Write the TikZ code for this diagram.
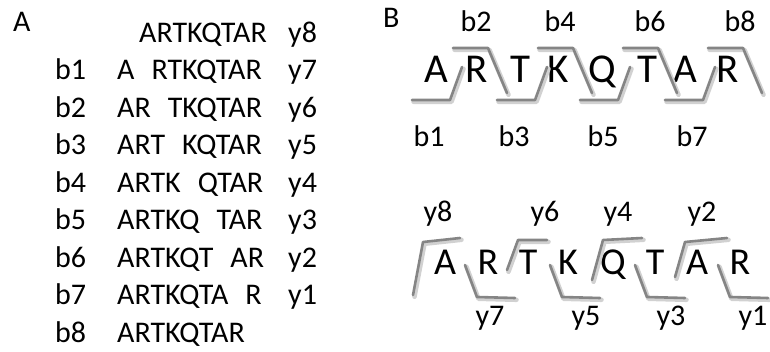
\documentclass[tikz,border=0pt]{standalone}
\usepackage{fontspec}
\setmainfont{Carlito}
\begin{document}
\begin{tikzpicture}[x=1pt,y=-1pt, txt/.style={inner sep=0pt,font=\fontsize{30}{32}\selectfont}, bigletter/.style={inner sep=0pt,anchor=base,font=\fontsize{41}{44}\selectfont}, smallletter/.style={inner sep=0pt,anchor=base,font=\fontsize{38}{40}\selectfont}, bracket/.style={draw=black!48,line width=2.6pt,line join=round,line cap=round}, shade/.style={draw=black!18,line width=4.5pt,line join=round,line cap=round,shift={(1.5,1.8)}}]
\useasboundingbox (0,0) rectangle (770,352);
% panel A
\node[txt,anchor=base west] (pA) at (13,32) {A};
\node[txt,anchor=base east] (s0) at (267,42.5) {ARTKQTAR};
\node[txt,anchor=base west] (y8a) at (288,42.5) {y8};
\foreach \i/\pre/\post/\y in {1/A/RTKQTAR/7, 2/AR/TKQTAR/6, 3/ART/KQTAR/5, 4/ARTK/QTAR/4, 5/ARTKQ/TAR/3, 6/ARTKQT/AR/2, 7/ARTKQTA/R/1}{
  \node[txt,anchor=base west] (b\i a) at (55,42.5+37.5*\i) {b\i};
  \node[txt,anchor=base west] (s\i) at (117,42.5+37.5*\i) {\pre\hspace{17pt}\post};
  \node[txt,anchor=base west] (y\y a) at (288,42.5+37.5*\i) {y\y};
}
\node[txt,anchor=base west] (b8a) at (55,342.5) {b8};
\node[txt,anchor=base west] (s8) at (117,342.5) {ARTKQTAR};
% panel B
\node[txt,anchor=base west] (pB) at (383,28) {B};
\foreach \c/\x [count=\n] in {A/436,R/477,T/520,K/558,Q/602,T/647,A/685,R/728}
  \node[bigletter] (t\n) at (\x,83) {\c};
\foreach \c/\x [count=\n] in {A/445,R/488,T/528,K/568,Q/613,T/655,A/697,R/740}
  \node[smallletter] (u\n) at (\x,275) {\c};
% cleavage brackets, top sequence
\foreach \st in {shade,bracket}{
  \foreach \s in {453,538,623,708}
    \draw[\st] (\s,48) -- (\s+35,48) -- (\s+54,93);
  \foreach \s in {412,497,580,665}
    \draw[\st] (\s,100) -- (\s+38,100) -- (\s+50,67);
  % bottom sequence
  \draw[\st] (413,295) -- (423,242) -- (460,238);
  \draw[\st] (507,270) -- (518,240) -- (547,240);
  \draw[\st] (592,280) -- (603,240) -- (642,238);
  \draw[\st] (675,277) -- (685,242) -- (727,238);
  \foreach \s in {465,550,635,718}
    \draw[\st] (\s,265) -- (\s+12,297) -- (\s+50,298);
}
\foreach \n/\x in {2/476,4/560,6/650,8/740}
  \node[txt,anchor=base] (b\n b) at (\x,32) {b\n};
\foreach \n/\x in {1/429,3/514,5/603,7/692}
  \node[txt,anchor=base] (b\n b) at (\x,147) {b\n};
\foreach \n/\x in {8/438,6/545,4/618,2/702}
  \node[txt,anchor=base] (y\n b) at (\x,222) {y\n};
\foreach \n/\x in {7/490,5/586,3/671,1/753}
  \node[txt,anchor=base] (y\n b) at (\x,325) {y\n};
\end{tikzpicture}
\end{document}
